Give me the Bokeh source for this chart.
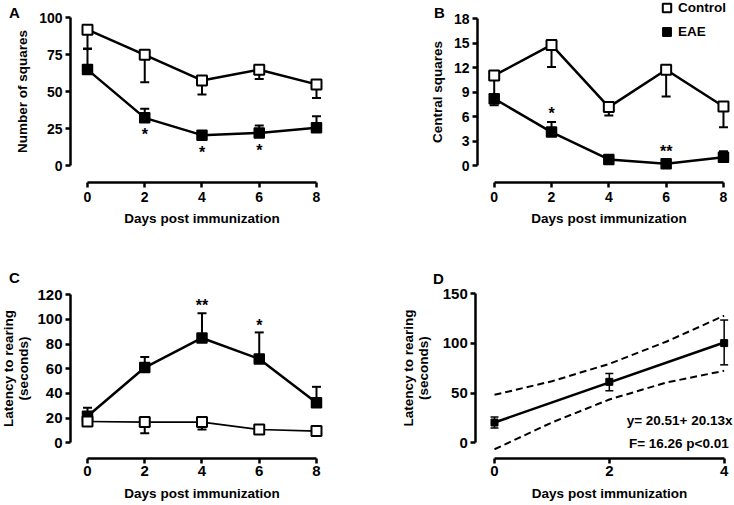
from bokeh.plotting import figure
from bokeh.layouts import row, column
from bokeh.models import Range1d, FixedTicker, Label, Legend, LegendItem
from bokeh.core.properties import value
from bokeh.embed import file_html
from bokeh.resources import INLINE

FONT = "Liberation Sans"

# ---------------- data ----------------
days = [0, 2, 4, 6, 8]

# Panel A: number of squares
a_ctrl = [91.8, 74.8, 57.5, 64.7, 54.8]
a_ctrl_lo = [79.0, 56.2, 48.0, 58.5, 45.6]
a_eae = [64.8, 32.2, 20.5, 22.0, 25.5]
a_eae_hi = [78.7, 38.3, 21.0, 27.0, 33.2]
a_star_x = [2, 4, 6]
a_star_y = [21.0, 8.6, 10.4]
a_star_txt = ["*", "*", "*"]
a_yticks = [0, 25, 50, 75, 100]

# Panel B: central squares
b_ctrl = [11.05, 14.8, 7.17, 11.76, 7.25]
b_ctrl_lo = [7.4, 12.1, 6.15, 8.48, 4.7]
b_eae = [8.2, 4.1, 0.74, 0.22, 1.02]
b_eae_hi = [8.5, 5.33, 0.9, 0.3, 1.76]
b_star_x = [2, 6]
b_star_y = [6.43, 1.68]
b_star_txt = ["*", "**"]
b_yticks = [0, 3, 6, 9, 12, 15, 18]

# Panel C: latency to rearing
c_ctrl = [17.3, 16.8, 16.8, 10.8, 9.5]
c_ctrl_lo = [15.0, 7.8, 10.8, 10.5, 9.2]
c_eae = [21.6, 61.0, 85.0, 68.0, 32.4]
c_eae_hi = [28.4, 69.5, 105.0, 89.5, 45.4]
c_star_x = [4, 6]
c_star_y = [111.0, 95.4]
c_star_txt = ["**", "*"]
c_yticks = [0, 20, 40, 60, 80, 100, 120]

# Panel D: regression of latency
d_days = [0, 2, 4]
d_mean = [20.4, 61.4, 100.4]
d_lo = [15.0, 52.4, 78.5]
d_hi = [26.0, 69.8, 123.6]
d_fit_x = [0, 4]
d_fit_y = [20.5, 101.0]
d_band_x = [0, 1, 2, 3, 4]
d_band_hi = [48.3, 62.0, 79.5, 102.0, 128.0]
d_band_lo = [-6.5, 20.5, 43.6, 60.8, 72.5]
d_yticks = [0, 50, 100, 150]
d_eq1 = "y= 20.51+ 20.13x"
d_eq2 = "F= 16.26  p<0.01"

xticks8 = [0, 2, 4, 6, 8]
xticks4 = [0, 2, 4]
xlabel = "Days post immunization"


def make_fig(w, h, xr, yr):
    # frame covers the whole canvas; axes are pinned with fixed_location
    p = figure(width=w, height=h, x_range=Range1d(*xr), y_range=Range1d(*yr),
               output_backend="svg", toolbar_location=None,
               min_border_left=0, min_border_right=0,
               min_border_top=0, min_border_bottom=0)
    p.grid.visible = False
    p.outline_line_color = None
    p.background_fill_color = "white"
    p.border_fill_color = "white"
    return p


def style_axes(p, xticks, xb, yticks, yb, ylab, tick_size, xstand, xlstand, ylstand,
               xloc, yloc):
    for ax, ticks, b in ((p.xaxis[0], xticks, xb), (p.yaxis[0], yticks, yb)):
        ax.ticker = FixedTicker(ticks=ticks)
        ax.bounds = b
        ax.axis_line_width = 2.5
        ax.axis_line_color = "black"
        ax.major_tick_line_width = 2.5
        ax.major_tick_line_color = "black"
        ax.major_tick_out = 5
        ax.major_tick_in = 0
        ax.minor_tick_line_color = None
        ax.major_label_text_font = FONT
        ax.major_label_text_font_style = "bold"
        ax.major_label_text_font_size = tick_size
        ax.major_label_text_color = "black"
        ax.axis_label_text_font = FONT
        ax.axis_label_text_font_style = "bold"
        ax.axis_label_text_font_size = "13.5px"
        ax.axis_label_text_color = "black"
        ax.axis_label_text_line_height = 1.0
    p.xaxis[0].fixed_location = xloc
    p.yaxis[0].fixed_location = yloc
    p.xaxis[0].axis_label = xlabel
    p.xaxis[0].major_label_standoff = xstand
    p.xaxis[0].axis_label_standoff = xlstand
    p.yaxis[0].axis_label = ylab
    p.yaxis[0].major_label_standoff = 3
    p.yaxis[0].axis_label_standoff = ylstand


def letter(p, txt, x, y):
    p.add_layout(Label(x=x, y=y, x_units="screen", y_units="screen", text=txt,
                       text_font=FONT, text_font_style="bold", text_font_size="15px",
                       text_align="center", text_baseline="middle", text_color="black"))


def stars(p, xs, ys, txt, size="16px"):
    p.text(x=xs, y=ys, text=txt, text_font=value(FONT), text_font_style="bold",
           text_font_size=size, text_align="center", text_baseline="middle",
           text_color="black")


def series(p, ctrl, ctrl_lo, eae, eae_hi, ctrl_lw=2.5):
    p.line(days, eae, line_width=2.5, color="black")
    p.line(days, ctrl, line_width=ctrl_lw, color="black")
    p.segment(x0=days, y0=ctrl, x1=days, y1=ctrl_lo, line_width=2, color="black")
    p.scatter(days, ctrl_lo, marker="dash", size=9, line_width=2, color="black")
    p.segment(x0=days, y0=eae, x1=days, y1=eae_hi, line_width=2, color="black")
    p.scatter(days, eae_hi, marker="dash", size=9, line_width=2, color="black")
    r_e = p.scatter(days, eae, marker="square", size=10, fill_color="black",
                    line_color="black", line_width=1.5)
    r_c = p.scatter(days, ctrl, marker="square", size=10, fill_color="white",
                    line_color="black", line_width=2)
    return r_c, r_e


# ---------------- Panel A ----------------
pa = make_fig(367, 250, (-3.039, 9.782), (-57.43, 111.49))
style_axes(pa, xticks8, (0, 8), a_yticks, (0, 100), "Number of squares", "14px",
           4, 6, 6, -11.49, -0.594)
series(pa, a_ctrl, a_ctrl_lo, a_eae, a_eae_hi)
stars(pa, a_star_x, a_star_y, a_star_txt)
letter(pa, "A", 14, 238)

# ---------------- Panel B ----------------
pb = make_fig(367, 250, (-4.421, 8.385), (-10.43, 20.25))
style_axes(pb, xticks8, (0, 8), b_yticks, (0, 18), "Central squares", "14px",
           4, 6, 6, -2.086, -0.583)
rc, re = series(pb, b_ctrl, b_ctrl_lo, b_eae, b_eae_hi)
stars(pb, b_star_x, b_star_y, b_star_txt)
letter(pb, "B", 72, 238)
leg = Legend(items=[LegendItem(label="Control", renderers=[rc]),
                    LegendItem(label="EAE", renderers=[re])],
             location=(289, 208), orientation="vertical",
             glyph_width=21, glyph_height=21, label_height=21, label_standoff=1,
             spacing=3, padding=0, margin=0,
             label_text_font=FONT, label_text_font_style="bold",
             label_text_font_size="13.5px", label_text_color="black",
             border_line_alpha=0, background_fill_alpha=0)
pb.add_layout(leg)

# ---------------- Panel C ----------------
pc = make_fig(367, 255, (-3.039, 9.782), (-50.8, 155.9))
style_axes(pc, xticks8, (0, 8), c_yticks, (0, 120), "Latency to rearing\n(seconds)", "15px",
           2, 7, 3, -12.97, -0.594)
series(pc, c_ctrl, c_ctrl_lo, c_eae, c_eae_hi, ctrl_lw=1.7)
stars(pc, c_star_x, c_star_y, c_star_txt)
letter(pc, "C", 14, 228)

# ---------------- Panel D ----------------
pd_ = make_fig(367, 255, (-2.212, 4.18), (-63.1, 193.6))
style_axes(pd_, xticks4, (0, 4), d_yticks, (0, 150), "Latency to rearing\n(seconds)", "15px",
           2, 7, 8, -16.1, -0.326)
pd_.line(d_band_x, d_band_hi, line_width=2, color="black", line_dash="7 4")
pd_.line(d_band_x, d_band_lo, line_width=2, color="black", line_dash="7 4")
pd_.line(d_fit_x, d_fit_y, line_width=2.5, color="black")
pd_.segment(x0=d_days, y0=d_lo, x1=d_days, y1=d_hi, line_width=1.5, color="black")
pd_.scatter(d_days, d_lo, marker="dash", size=8, line_width=1.5, color="black")
pd_.scatter(d_days, d_hi, marker="dash", size=8, line_width=1.5, color="black")
pd_.scatter(d_days, d_mean, marker="square", size=7, color="black")
for txt, yy in ((d_eq1, 85), (d_eq2, 62)):
    pd_.add_layout(Label(x=365, y=yy, x_units="screen", y_units="screen", text=txt,
                         text_font=FONT, text_font_style="bold", text_font_size="13.5px",
                         text_align="right", text_baseline="middle", text_color="black"))
letter(pd_, "D", 71, 227.5)

layout = column(row(pa, pb), row(pc, pd_))
open("out.html", "w").write(file_html(layout, INLINE))
